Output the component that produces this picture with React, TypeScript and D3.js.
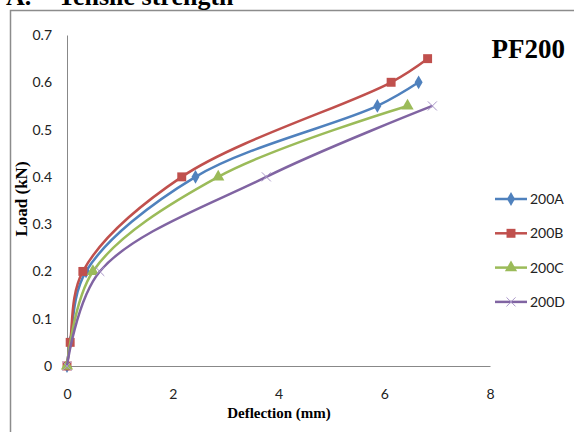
import React, { useEffect, useRef } from 'react';
import * as d3 from 'd3';

// Deflection (mm) / Load (kN)
const seriesNames = ['200A', '200B', '200C', '200D'];
const deflA = [0, 0.06, 0.36, 2.43, 5.87, 6.65];
const loadA = [0, 0.05, 0.2, 0.4, 0.55, 0.6];
const deflB = [0, 0.06, 0.3, 2.17, 6.13, 6.82];
const loadB = [0, 0.05, 0.2, 0.4, 0.6, 0.65];
const deflC = [0, 0.49, 2.86, 6.44];
const loadC = [0, 0.2, 0.4, 0.55];
const deflD = [0, 0.62, 3.77, 6.91];
const loadD = [0, 0.2, 0.4, 0.55];
const xTicks = [0, 2, 4, 6, 8];
const yTicks = [0, 0.1, 0.2, 0.3, 0.4, 0.5, 0.6, 0.7];

const colors = ['#4F81BD', '#C0504D', '#9BBB59', '#8064A2'];
const symbols = [d3.symbolDiamond, d3.symbolSquare, d3.symbolTriangle, d3.symbolX];
const symbolSizes = [55, 80, 65, 55];

const W = 574;
const H = 432;

const App: React.FC = () => {
  const svgRef = useRef<SVGSVGElement>(null);

  useEffect(() => {
    if (!svgRef.current) return;
    const svg = d3.select(svgRef.current);
    svg.selectAll('*').remove();

    const x = d3.scaleLinear().domain([0, 8]).range([67, 490]);
    const y = d3.scaleLinear().domain([0, 0.7]).range([366, 35]);

    // outer frame (only left and top edges are visible)
    svg.append('path')
      .attr('d', `M10.5,${H} L10.5,10.5 L${W},10.5`)
      .attr('fill', 'none')
      .attr('stroke', '#8c8c8c')
      .attr('stroke-width', 1.5);

    // title cut off at the top
    svg.append('text')
      .attr('x', 6).attr('y', 5)
      .attr('font-family', '"Liberation Serif", "Times New Roman", serif')
      .attr('font-weight', 'bold').attr('font-size', 26)
      .text('A.');
    svg.append('text')
      .attr('x', 58).attr('y', 5)
      .attr('font-family', '"Liberation Serif", "Times New Roman", serif')
      .attr('font-weight', 'bold').attr('font-size', 26)
      .text('Tensile strength');

    const yAxis = svg.append('g')
      .attr('transform', `translate(${x(0)},0)`)
      .call(d3.axisLeft(y).tickValues(yTicks).tickSize(0).tickPadding(15)
        .tickFormat((d) => d3.format('')(+(+d).toFixed(1))));
    const xAxis = svg.append('g')
      .attr('transform', `translate(0,${y(0)})`)
      .call(d3.axisBottom(x).tickValues(xTicks).tickSize(0).tickPadding(23));
    [xAxis, yAxis].forEach((g) => {
      g.select('.domain').attr('stroke', '#888888').attr('stroke-width', 1);
      g.selectAll('text')
        .attr('font-family', 'Lato, "Open Sans", sans-serif')
        .attr('font-size', 14)
        .attr('fill', '#222');
    });

    svg.append('text')
      .attr('x', 279).attr('y', 418)
      .attr('text-anchor', 'middle')
      .attr('font-family', '"Liberation Serif", "Times New Roman", serif')
      .attr('font-weight', 'bold').attr('font-size', 15)
      .text('Deflection (mm)');
    svg.append('text')
      .attr('transform', 'translate(27,199) rotate(-90)')
      .attr('text-anchor', 'middle')
      .attr('font-family', '"Liberation Serif", "Times New Roman", serif')
      .attr('font-weight', 'bold').attr('font-size', 17)
      .text('Load (kN)');

    svg.append('text')
      .attr('x', 565).attr('y', 58)
      .attr('text-anchor', 'end')
      .attr('font-family', '"Liberation Serif", "Times New Roman", serif')
      .attr('font-weight', 'bold').attr('font-size', 27)
      .text('PF200');

    const defls = [deflA, deflB, deflC, deflD];
    const loads = [loadA, loadB, loadC, loadD];

    const line = d3.line<[number, number]>()
      .x((d) => x(d[0]))
      .y((d) => y(d[1]))
      .curve(d3.curveCatmullRom.alpha(0.5));

    const drawMarker = (g: d3.Selection<SVGGElement, unknown, null, undefined>, i: number, cx: number, cy: number) => {
      const p = g.append('path')
        .attr('transform', `translate(${cx},${cy})`)
        .attr('d', d3.symbol().type(symbols[i]).size(symbolSizes[i])());
      if (i === 3) {
        p.attr('fill', 'none').attr('stroke', '#a996c8').attr('stroke-width', 1);
      } else {
        p.attr('fill', colors[i]).attr('stroke', 'none');
      }
    };

    seriesNames.forEach((name, i) => {
      const pts: [number, number][] = defls[i].map((d, j) => [d, loads[i][j]]);
      const g = svg.append('g');
      g.append('path')
        .attr('d', line(pts))
        .attr('fill', 'none')
        .attr('stroke', colors[i])
        .attr('stroke-width', 2.5);
      pts.forEach((p) => drawMarker(g, i, x(p[0]), y(p[1])));
    });

    // legend
    seriesNames.forEach((name, i) => {
      const ly = 199 + i * 34.3;
      const g = svg.append('g');
      g.append('line')
        .attr('x1', 495).attr('x2', 527)
        .attr('y1', ly).attr('y2', ly)
        .attr('stroke', colors[i]).attr('stroke-width', 2.5);
      drawMarker(g, i, 511, ly);
      g.append('text')
        .attr('x', 530).attr('y', ly).attr('dy', '0.35em')
        .attr('font-family', 'Lato, "Open Sans", sans-serif')
        .attr('font-size', 14)
        .attr('fill', '#222')
        .text(name);
    });
  }, []);

  return (
    <svg
      ref={svgRef}
      width={W}
      height={H}
      style={{ position: 'absolute', left: 0, top: 0, background: '#fff' }}
    />
  );
};

export default App;
